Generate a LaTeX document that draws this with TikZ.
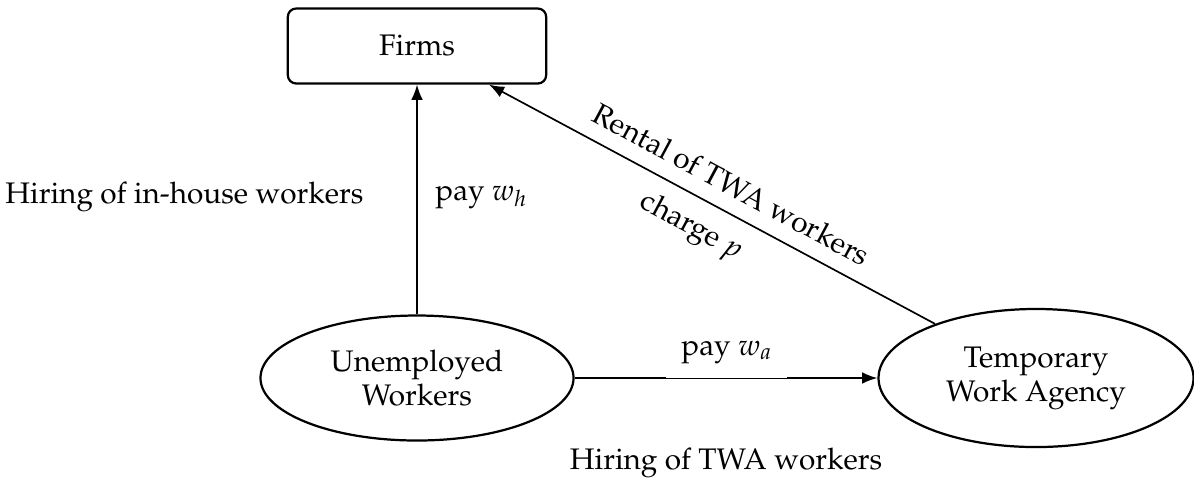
\documentclass[tikz,border=0pt]{standalone}
\usepackage[T1]{fontenc}
\usepackage{mathpazo}
\usetikzlibrary{arrows.meta,shapes.geometric}
\begin{document}
\begin{tikzpicture}[x=0.36pt,y=-0.36pt,
  every node/.style={font=\fontsize{10.7}{12.3}\selectfont},
  box/.style={draw, thick, rounded corners=3pt, minimum width=93pt, minimum height=27pt},
  oval/.style={draw, thick, ellipse, align=center, inner sep=0pt},
  arr/.style={semithick, -{Latex[length=5.5pt,width=4.2pt]}},
  lbl/.style={inner sep=0pt}]
\useasboundingbox (0,0) rectangle (1194,486);
\node[box] (F) at (417,46) {Firms};
\node[oval, minimum width=112.7pt, minimum height=45pt] (U) at (417,378) {Unemployed\\Workers};
\node[oval, minimum width=113.4pt, minimum height=49.7pt] (T) at (1036,378) {Temporary\\Work Agency};
\draw[arr] (U) -- (F) node[pos=0.51, right, xshift=3pt] {pay $w_h$};
\draw[arr] (T) -- (F)
  node[pos=0.485, sloped, above, yshift=2pt] {Rental of TWA workers}
  node[pos=0.515, sloped, below, yshift=-2pt] {charge $p$};
\coordinate (ga) at (666,378);
\coordinate (gb) at (787,378);
\draw[semithick] (U) -- (ga);
\draw[line width=0.35pt] (ga) -- (gb);
\draw[arr] (gb) -- (T);
\node[lbl, anchor=base] (pa) at (727,355) {pay $w_a$};
\node[lbl, anchor=east] (hl) at (364,197) {Hiring of in-house workers};
\node[lbl] (ht) at (726,463) {Hiring of TWA workers};
\end{tikzpicture}
\end{document}
